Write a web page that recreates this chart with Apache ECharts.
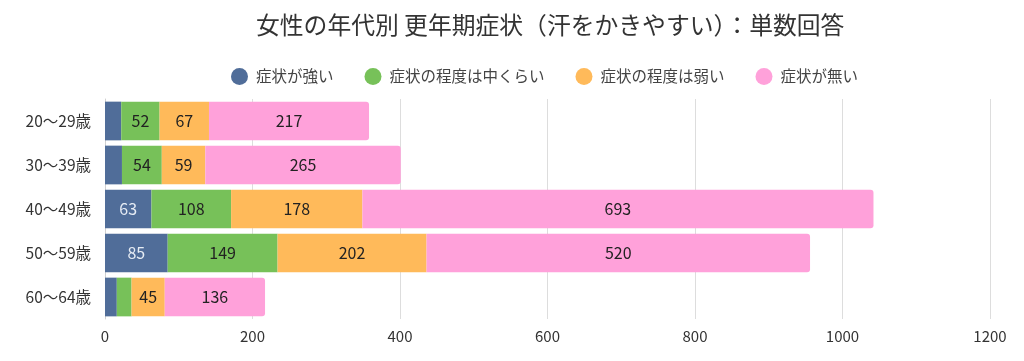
<!DOCTYPE html>
<html><head><meta charset="utf-8">
<script src="https://cdn.jsdelivr.net/npm/echarts@6/dist/echarts.min.js"></script>
<style>html,body{margin:0;padding:0;background:#fff}#c{width:1024px;height:361px}</style>
</head><body><div id="c"></div>
<script>
const categories = ['20〜29歳', '30〜39歳', '40〜49歳', '50〜59歳', '60〜64歳'];
const seriesNames = ['症状が強い', '症状の程度は中くらい', '症状の程度は弱い', '症状が無い'];
const strong = [22, 23, 63, 85, 16];
const moderate = [52, 54, 108, 149, 20];
const weak = [67, 59, 178, 202, 45];
const none = [217, 265, 693, 520, 136];
const colors = ['#506d99', '#77c159', '#ffba5a', '#ffa1da'];
const labelColors = ['#e6ecf4', '#222', '#222', '#222'];
const FONT = '"Noto Sans CJK JP", "Noto Sans", sans-serif';

const data = [strong, moderate, weak, none];
const chart = echarts.init(document.getElementById('c'), null, {renderer: 'canvas'});
chart.setOption({
  animation: false,
  textStyle: {fontFamily: FONT},
  title: {
    text: '女性の年代別 更年期症状（汗をかきやすい）：単数回答',
    left: 251, top: 8,
    textStyle: {fontFamily: FONT, fontSize: 23.8, fontWeight: 'normal', color: '#333'}
  },
  legend: {
    data: seriesNames,
    left: 226, top: 63,
    icon: 'circle', itemWidth: 17, itemHeight: 17, itemGap: 31,
    textStyle: {fontFamily: FONT, fontSize: 15.5, color: '#444', padding: [0, 0, 0, 3]}
  },
  grid: {left: 105, right: 34, top: 99, bottom: 42, containLabel: false},
  xAxis: {
    type: 'value', min: 0, max: 1200, interval: 200,
    axisLine: {show: false}, axisTick: {show: false},
    splitLine: {lineStyle: {color: '#dddddd'}},
    axisLabel: {fontFamily: FONT, fontSize: 15, color: '#333', margin: 10, formatter: v => String(v)}
  },
  yAxis: {
    type: 'category', data: categories, inverse: true,
    axisLine: {show: true, lineStyle: {color: '#d0d0d0'}}, axisTick: {show: false},
    axisLabel: {fontFamily: FONT, fontSize: 15.5, color: '#333', margin: 14}
  },
  series: seriesNames.map((n, i) => ({
    name: n, type: 'bar', stack: 'total', barCategoryGap: '12%',
    data: data[i],
    itemStyle: {color: colors[i], borderRadius: i === 3 ? [0, 3, 3, 0] : 0},
    label: {
      show: true, position: 'inside', fontFamily: FONT, fontSize: 16, color: labelColors[i],
      formatter: p => p.value >= 30 ? String(p.value) : ''
    }
  }))
});
</script></body></html>
